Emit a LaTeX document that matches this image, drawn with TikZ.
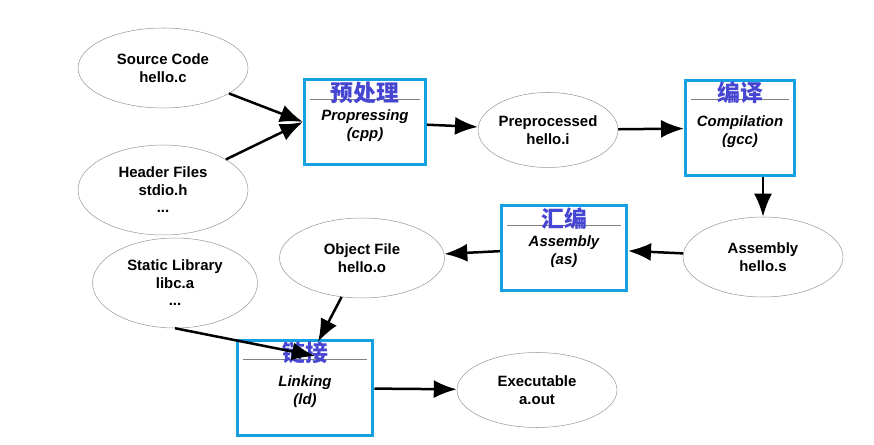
\documentclass[tikz,border=0pt]{standalone}
\usepackage{fontspec}
\setmainfont{Liberation Sans}
\newfontfamily\cjk{Noto Sans CJK SC}
\usetikzlibrary{arrows.meta, shapes.geometric, positioning}
\definecolor{boxblue}{RGB}{20,160,225}
\definecolor{cnblue}{RGB}{70,70,210}
\begin{document}
\begin{tikzpicture}[x=0.02cm,y=-0.02cm,font=\bfseries\fontsize{8.5}{10}\selectfont,
	->,>={Latex[length=4.6mm,width=3.6mm]},line width=0.5mm]
	
	\tikzset{file/.style={ellipse, draw=gray!80, line width=0.3pt,
			align=center, inner sep=0pt}}
	\tikzset{proc/.style={rectangle, draw=boxblue, line width=0.6mm,
			align=center, font=\bfseries\itshape\fontsize{8.5}{10}\selectfont}}
	\tikzset{cn/.style={font=\cjk\bfseries\fontsize{13}{14}\selectfont, text=cnblue}}
	
	\useasboundingbox (0,0) rectangle (874,445);
	
	\node[file, minimum width=3.4cm, minimum height=1.6cm] (src) at (163,68) {Source Code\\hello.c};
	\node[file, minimum width=3.4cm, minimum height=1.8cm] (hdr) at (163,190) {Header Files\\stdio.h\\...};
	\node[file, minimum width=2.8cm, minimum height=1.5cm] (pre) at (548,130) {Preprocessed\\hello.i};
	\node[file, minimum width=3.2cm, minimum height=1.6cm] (asm) at (763,257) {Assembly\\hello.s};
	\node[file, minimum width=3.3cm, minimum height=1.6cm] (obj) at (362,258) {Object File\\hello.o};
	\node[file, minimum width=3.3cm, minimum height=1.8cm] (lib) at (175,283) {Static Library\\libc.a\\...};
	\node[file, minimum width=3.2cm, minimum height=1.5cm] (exe) at (537,390) {Executable\\a.out};
	
	\node[proc, minimum width=2.42cm, minimum height=1.7cm] (cpp) at (365,122) {\\Propressing\\(cpp)};
	\node[proc, minimum width=2.18cm, minimum height=1.92cm] (gcc) at (740,128) {\\Compilation\\(gcc)};
	\node[proc, minimum width=2.5cm, minimum height=1.7cm] (as) at (564,248) {\\Assembly\\(as)};
	\node[proc, minimum width=2.72cm, minimum height=1.92cm] (ld) at (305,388) {\\Linking\\(ld)};
	
	% inner title lines and chinese labels
	\foreach \b/\t in {cpp/预处理, gcc/编译, as/汇编, ld/链接} {
		\draw[-, gray, line width=0.4pt] ([xshift=4pt,yshift=-12pt]\b.north west) -- ([xshift=-4pt,yshift=-12pt]\b.north east);
		\node[cn, below=-2pt of \b.north] {\t};
	}
	
	\coordinate (libend) at (315,356);
	\coordinate (objend) at (318,342);
	
	\draw (src) -- (cpp.west);
	\draw (hdr) -- (cpp.west);
	\draw (cpp) -- (pre);
	\draw (pre) -- (gcc);
	\draw (gcc.south -| asm.north) -- (asm);
	\draw (asm) -- (as);
	\draw (as) -- (obj);
	\draw (obj) -- (objend);
	\draw (lib.south) -- (libend);
	\draw (ld) -- (exe);
\end{tikzpicture}
\end{document}
